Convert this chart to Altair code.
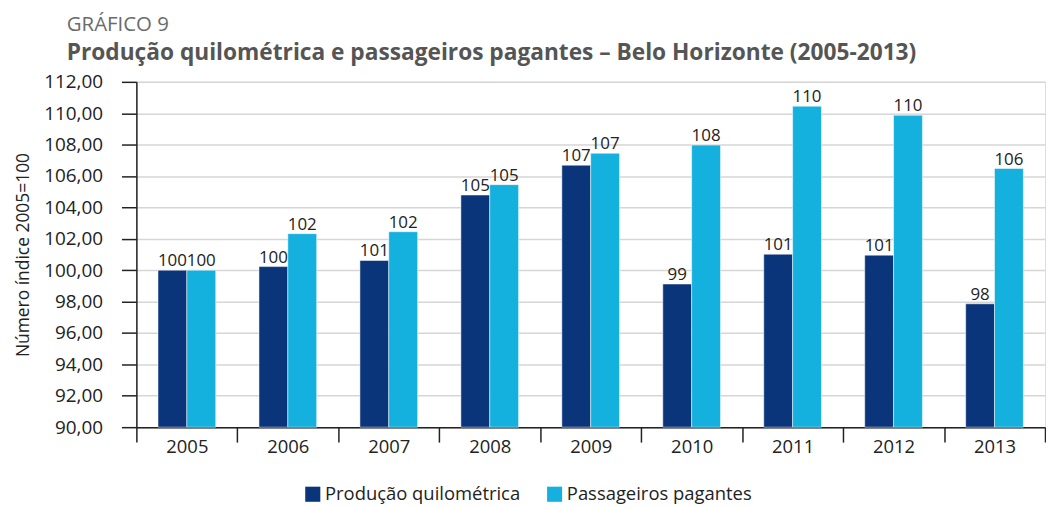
import altair as alt
import pandas as pd

years = ["2005", "2006", "2007", "2008", "2009", "2010", "2011", "2012", "2013"]
series_names = ["Produção quilométrica", "Passageiros pagantes"]
producao = [100.00, 100.23, 100.62, 104.79, 106.69, 99.12, 101.02, 100.96, 97.86]
passageiros = [100.00, 102.33, 102.45, 105.45, 107.45, 107.97, 110.45, 109.87, 106.48]
colors = ["#0a357a", "#14b0de"]
y_ticks = [90, 92, 94, 96, 98, 100, 102, 104, 106, 108, 110, 112]

rows = []
for i, y in enumerate(years):
    rows.append({"ano": y, "serie": series_names[0], "valor": producao[i]})
    rows.append({"ano": y, "serie": series_names[1], "valor": passageiros[i]})
df = pd.DataFrame(rows)

FONT = "Open Sans"
FS = 17.5

x = alt.X("ano:N", sort=years, title=None,
          scale=alt.Scale(paddingInner=0, paddingOuter=0),
          axis=alt.Axis(labelAngle=0, tickBand="extent", tickSize=15, tickColor="#222",
                        tickWidth=1.5, domainColor="#222", domainWidth=1.5,
                        labelFontSize=18.5, labelColor="#222", labelPadding=-5,
                        labelFont=FONT, labelBaseline="top"))
xoff = alt.XOffset("serie:N", sort=series_names,
                   scale=alt.Scale(paddingInner=0, paddingOuter=0.75))
y = alt.Y("valor:Q", title="Número índice 2005=100",
          scale=alt.Scale(domain=[90, 112], nice=False, zero=False, clamp=True),
          axis=alt.Axis(values=y_ticks, labelOverlap=False, tickCount=12,
                        labelExpr="replace(format(datum.value, '.2f'), '.', ',')",
                        labelFontSize=19, labelColor="#222", labelFont=FONT,
                        tickSize=15, tickColor="#222", tickWidth=1.5,
                        domainColor="#222", domainWidth=1.5, labelPadding=19,
                        gridColor="#d6d6d6", gridWidth=1.5,
                        titleFontSize=FS, titleFontWeight="normal", titleColor="#222",
                        titleFont=FONT, titlePadding=11))
color = alt.Color("serie:N", sort=series_names,
                  scale=alt.Scale(domain=series_names, range=colors),
                  legend=alt.Legend(title=None, orient="none", direction="horizontal",
                                    legendX=168, legendY=405, symbolType="square",
                                    symbolSize=230, symbolStrokeWidth=0,
                                    labelFontSize=18.5, labelColor="#222", labelFont=FONT,
                                    labelLimit=400, columnPadding=25, symbolOffset=0,
                                    labelOffset=3))

base = alt.Chart(df).encode(x=x, xOffset=xoff, y=y)
bars = base.mark_bar(stroke="white", strokeWidth=0.5).encode(color=color)
labels = base.mark_text(baseline="bottom", dy=0, fontSize=17, color="#222",
                        font=FONT).encode(text=alt.Text("valor:Q", format=".0f"))

chart = alt.layer(bars, labels).properties(
    width=913, height=347,
    title=alt.TitleParams(text="GRÁFICO 9",
                          subtitle="Produção quilométrica e passageiros pagantes – Belo Horizonte (2005-2013)",
                          anchor="start", frame="group", dx=-70, offset=8,
                          font=FONT, fontSize=20.5, fontWeight="normal", color="#6b6b6b",
                          subtitleFont=FONT, subtitleFontSize=22.8, subtitleFontWeight="bold",
                          subtitleColor="#555555", subtitlePadding=7)
).configure_view(stroke=None).configure(padding={"left": 6, "top": 5, "right": 0, "bottom": 0})

chart.save("out.html", embed_options={"renderer": "svg", "actions": False})
